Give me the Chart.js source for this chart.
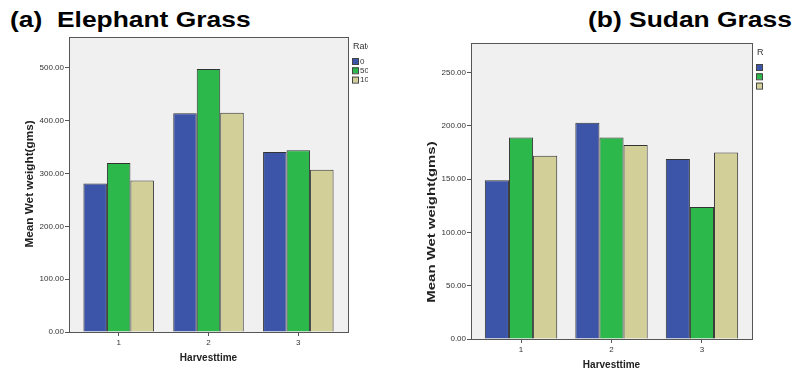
<!DOCTYPE html>
<html>
<head>
<meta charset="utf-8">
<script src="https://cdn.jsdelivr.net/npm/chart.js@4"></script>
<style>
  body{margin:0;background:#fff;width:794px;height:373px;overflow:hidden;position:relative;font-family:"Liberation Sans",Arial,sans-serif}
  .ttl{position:absolute;font-weight:bold;font-size:22px;color:#000;white-space:pre;line-height:1;transform:scaleX(1.2);transform-origin:0 0}
  #wa{position:absolute;left:0;top:0;width:368px;height:373px}
  #wb{position:absolute;left:400px;top:0;width:363px;height:373px}
</style>
</head>
<body>
<div class="ttl" style="left:10px;top:9px">(a)  Elephant Grass</div>
<div class="ttl" style="left:588px;top:9px">(b) Sudan Grass</div>
<div id="wa"><canvas id="ca"></canvas></div>
<div id="wb"><canvas id="cb"></canvas></div>
<script>
// harvest times and rates
const harvest = [1, 2, 3];
const rates = ['0', '50', '100'];

// elephant grass mean wet weight
const elephant0 = [281, 414, 341];
const elephant50 = [320, 498, 344];
const elephant100 = [287, 415, 307];

// sudan grass mean wet weight
const sudan0 = [149, 203, 169];
const sudan50 = [189, 189, 124];
const sudan100 = [172, 182, 175];

const yTicksA = [0, 100, 200, 300, 400, 500];
const yTicksB = [0, 50, 100, 150, 200, 250];

const colors = ['#3d55a8', '#2db84b', '#d3cf98'];

// grey plot box, y title and small legend on the right
const frame = {
  id: 'frame',
  beforeDraw(chart) {
    const a = chart.chartArea, ctx = chart.ctx;
    ctx.save();
    ctx.fillStyle = '#f0f0f0';
    ctx.fillRect(a.left, a.top, a.right - a.left, a.bottom - a.top);
    ctx.restore();
  },
  afterDraw(chart, args, opts) {
    const a = chart.chartArea, ctx = chart.ctx;
    ctx.save();
    ctx.strokeStyle = '#555';
    ctx.lineWidth = 1;
    ctx.strokeRect(Math.round(a.left) + 0.5, Math.round(a.top) + 0.5,
      Math.round(a.right - a.left), Math.round(a.bottom - a.top));

    // y axis title
    ctx.save();
    ctx.translate(opts.tx, opts.ty);
    ctx.rotate(-Math.PI / 2);
    ctx.scale(opts.stretch, 1);
    ctx.fillStyle = '#222';
    ctx.font = 'bold 10.5px "Liberation Sans", Arial';
    ctx.textAlign = 'center';
    ctx.textBaseline = 'middle';
    ctx.fillText('Mean Wet weight(gms)', 0, 0);
    ctx.restore();

    const lx = a.right + 4;
    ctx.fillStyle = '#333';
    ctx.font = '9px "Liberation Sans", Arial';
    ctx.textBaseline = 'middle';
    ctx.fillText('Rate', lx + 1, a.top + 10);
    ctx.font = '8px "Liberation Sans", Arial';
    chart.data.datasets.forEach((d, i) => {
      const y = a.top + 21 + i * 9.3;
      ctx.fillStyle = d.backgroundColor;
      ctx.fillRect(lx, y, 6, 6);
      ctx.strokeStyle = '#444';
      ctx.strokeRect(lx + 0.5, y + 0.5, 6, 6);
      ctx.fillStyle = '#333';
      ctx.fillText(d.label, lx + 8, y + 3.5);
    });
    ctx.restore();
  }
};

function makeChart(id, s0, s50, s100, yTicks, yMax, cfg) {
  const sets = [s0, s50, s100].map((s, i) => ({
    label: rates[i],
    data: harvest.map((h, j) => ({ x: h, y: s[j] })),
    backgroundColor: colors[i],
    borderColor: '#333',
    borderWidth: 1,
    categoryPercentage: cfg.catPct,
    barPercentage: 1
  }));
  return new Chart(document.getElementById(id), {
    type: 'bar',
    data: { datasets: sets },
    plugins: [frame],
    options: {
      responsive: true,
      maintainAspectRatio: false,
      animation: false,
      events: [],
      layout: { padding: { top: cfg.top, right: cfg.right, left: 0, bottom: 0 } },
      plugins: {
        legend: { display: false },
        tooltip: { enabled: false },
        frame: { tx: cfg.tx, ty: cfg.ty, stretch: cfg.stretch }
      },
      scales: {
        x: {
          type: 'linear',
          offset: false,
          min: 0.447,
          max: 3.553,
          afterBuildTicks: s => { s.ticks = harvest.map(v => ({ value: v })); },
          afterFit: s => { s.height = cfg.xh; },
          grid: { offset: false, drawOnChartArea: false, tickLength: 4, color: '#555' },
          border: { color: '#555' },
          ticks: { font: { size: 8 }, color: '#333', padding: 2, autoSkip: false, maxRotation: 0, callback: v => String(v) },
          title: { display: true, text: 'Harvesttime', font: { size: 10, weight: 'bold' }, color: '#222', padding: { top: cfg.xtp, bottom: cfg.xtp } }
        },
        y: {
          min: 0,
          max: yMax,
          afterBuildTicks: s => { s.ticks = yTicks.map(v => ({ value: v })); },
          afterFit: s => { s.width = cfg.yw; },
          grid: { drawOnChartArea: false, tickLength: 4, color: '#555' },
          border: { color: '#555' },
          ticks: { font: { size: 8 }, color: '#333', padding: 1, callback: v => Number(v).toFixed(2) }
        }
      }
    }
  });
}

makeChart('ca', elephant0, elephant50, elephant100, yTicksA, 558.6,
  { catPct: 0.785, top: 37, right: 20, xh: 41, yw: 69, xtp: 9, tx: 30, ty: 184, stretch: 1.12 });
makeChart('cb', sudan0, sudan50, sudan100, yTicksB, 277.8,
  { catPct: 0.8, top: 43, right: 11, xh: 34, yw: 71, xtp: 2, tx: 32, ty: 222, stretch: 1.42 });
</script>
</body>
</html>
